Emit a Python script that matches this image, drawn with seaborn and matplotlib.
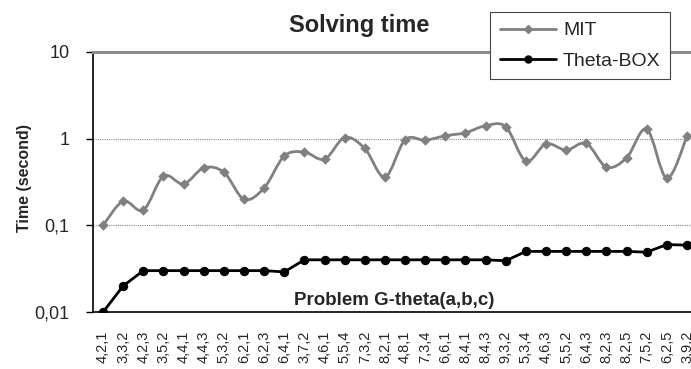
import numpy as np
import matplotlib
matplotlib.use("Agg")
import matplotlib.pyplot as plt
from matplotlib.path import Path
from matplotlib.patches import PathPatch
from matplotlib.lines import Line2D
import seaborn as sns
import pandas as pd

# ── DATA ──────────────────────────────────────────────────────────────────────
problems = ["4,2,1", "3,3,2", "4,2,3", "3,5,2", "4,4,1", "4,4,3", "5,3,2", "6,2,1",
            "6,2,3", "6,4,1", "3,7,2", "4,6,1", "5,5,4", "7,3,2", "8,2,1", "4,8,1",
            "7,3,4", "6,6,1", "8,4,1", "8,4,3", "9,3,2", "5,3,4", "4,6,3", "5,5,2",
            "6,4,3", "8,2,3", "8,2,5", "7,5,2", "6,2,5", "3,9,2"]
mit = [0.10, 0.19, 0.15, 0.37, 0.30, 0.46, 0.41, 0.20, 0.27, 0.63,
       0.70, 0.58, 1.03, 0.77, 0.36, 0.97, 0.96, 1.08, 1.17, 1.41,
       1.37, 0.55, 0.87, 0.74, 0.88, 0.47, 0.60, 1.29, 0.35, 1.06]
theta = [0.010, 0.020, 0.030, 0.030, 0.030, 0.030, 0.030, 0.030, 0.030, 0.029,
         0.040, 0.040, 0.040, 0.040, 0.040, 0.040, 0.040, 0.040, 0.040, 0.040,
         0.039, 0.050, 0.050, 0.050, 0.050, 0.050, 0.050, 0.049, 0.060, 0.059]

df = pd.DataFrame({"x": np.arange(len(problems)), "MIT": mit, "Theta-BOX": theta})

sns.set_theme(style="white")
plt.rcParams["font.family"] = ["Liberation Sans", "DejaVu Sans"]

GRAY = "#808080"
BLACK = "#000000"

fig = plt.figure(figsize=(6.91, 3.69), dpi=100)
ax = fig.add_axes([0.1346, 0.1545, 0.8654, 0.7046])
ax.set_yscale("log")

# smoothed MIT line (Excel style): Catmull-Rom bezier in log space
xs = df["x"].values.astype(float)
ly = np.log10(df["MIT"].values)
pts = np.column_stack([xs, ly])
ext = np.vstack([pts[0], pts, pts[-1]])
verts = [pts[0]]
codes = [Path.MOVETO]
for i in range(len(pts) - 1):
    p0, p1, p2, p3 = ext[i], ext[i + 1], ext[i + 2], ext[i + 3]
    c1 = p1 + (p2 - p0) / 6.0
    c2 = p2 - (p3 - p1) / 6.0
    verts += [c1, c2, p2]
    codes += [Path.CURVE4] * 3
verts = np.array(verts)
verts[:, 1] = 10 ** verts[:, 1]
ax.add_patch(PathPatch(Path(verts, codes), fill=False, edgecolor=GRAY, lw=2.0,
                       transform=ax.transData, zorder=2))
sns.scatterplot(data=df, x="x", y="MIT", marker="D", s=24, color=GRAY,
                edgecolor=GRAY, ax=ax, zorder=3, legend=False)

# Theta-BOX
sns.lineplot(data=df, x="x", y="Theta-BOX", color=BLACK, lw=2.0, marker="o",
             markersize=6, markeredgecolor=BLACK, ax=ax, zorder=4, legend=False)

ax.set_xlim(-0.45, 29.2)
ax.set_ylim(0.01, 10)
ax.set_yticks([0.01, 0.1, 1, 10])
ax.set_yticklabels(["0,01", "0,1", "1", "10"], fontsize=13)
ax.yaxis.set_minor_locator(matplotlib.ticker.NullLocator())
ax.set_xticks(df["x"])
ax.set_xticklabels(problems, rotation=90, fontsize=10.5)
ax.set_xticks(np.arange(len(problems)) - 0.5, minor=True)
ax.tick_params(axis="x", which="major", length=0, pad=13.5)
ax.tick_params(axis="x", which="minor", length=5, width=1, color=BLACK, direction="out")
ax.tick_params(axis="y", length=5, width=1, color=BLACK, direction="out", left=True, pad=12)
ax.set_xlabel("")
ax.set_ylabel("")

for v in [0.1, 1]:
    ax.axhline(v, color="#888888", lw=0.8, ls=(0, (1, 1)), zorder=1)

for s in ["left", "bottom"]:
    ax.spines[s].set_color(BLACK)
    ax.spines[s].set_linewidth(1.2)
ax.spines["top"].set_color("#8c8c8c")
ax.spines["top"].set_linewidth(2.2)
ax.spines["right"].set_visible(False)

ax.text((394 - 93) / 598, (312 - 301) / 260, "Problem G-theta(a,b,c)",
        transform=ax.transAxes, ha="center", va="center",
        fontsize=13.5, fontweight="bold")

fig.text(359 / 691, 1 - 32 / 369, "Solving time", ha="center", va="baseline",
         fontsize=17, fontweight="bold")
fig.text(24 / 691, 1 - 178 / 369, "Time (second)", ha="center", va="center",
         rotation=90, fontsize=11.5, fontweight="bold")

handles = [Line2D([], [], color=GRAY, lw=2, marker="D", markersize=4),
           Line2D([], [], color=BLACK, lw=2, marker="o", markersize=5)]
leg = fig.legend(handles, ["MIT", "Theta-BOX"], loc="upper left",
                 bbox_to_anchor=(490 / 691, 1 - 12 / 369), fontsize=14,
                 frameon=True, fancybox=False, framealpha=1, edgecolor="#444444",
                 handlelength=2.9, borderpad=0.5, labelspacing=0.65,
                 handletextpad=0.35, borderaxespad=0)
leg.get_frame().set_linewidth(0.8)

fig.savefig("out.png", dpi=100)
